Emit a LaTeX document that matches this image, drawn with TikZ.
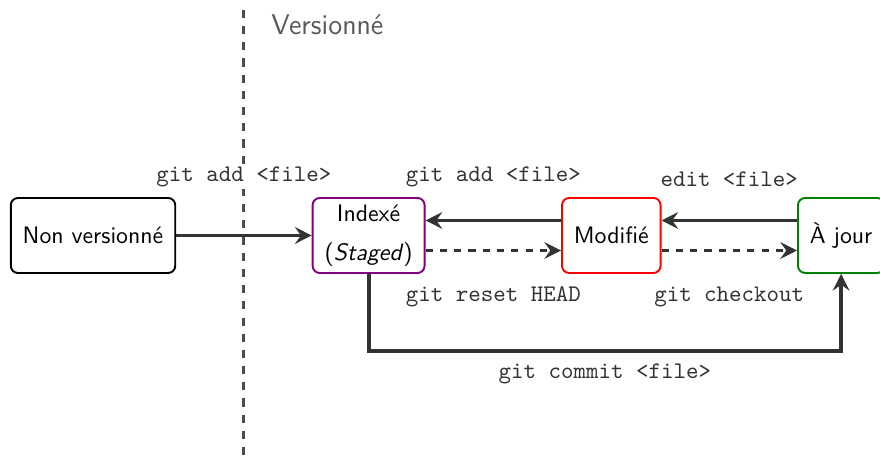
\documentclass[tikz,border=0pt]{standalone}
\usepackage{tikz}
\usetikzlibrary{arrows.meta,positioning,calc}
\definecolor{stagedpurple}{RGB}{128,0,128}

\begin{document}
\begin{tikzpicture}
\tikzstyle{state}=[rectangle, rounded corners=3pt, thick, draw=black, font=\sffamily, minimum height=31.5pt, inner xsep=5pt, inner ysep=2.5pt, align=center]
\tikzstyle{connect}=[-{Stealth[length=7pt, width=7pt, inset=2.5pt]}, line width=1.6pt, draw=black!80]
\tikzstyle{cmd}=[font=\ttfamily, text=black!80]
\tikzstyle{divider}=[line width=1.3pt, draw=black!70, dash pattern=on 3.4pt off 3.4pt]

  \useasboundingbox (-1.373,-3.343) rectangle (11.616,3.476);

  \node[state] (untracked) {Non versionné};
  \node[state, draw=stagedpurple] (staged) [right=2cm of untracked] {Indexé\\[4.5pt](\textit{Staged})};
  \node[state, draw=red] (modified) [right=2cm of staged] {Modifié};
  \node[state, draw=green!50!black] (unmodified) [right=2cm of modified] {À jour};

  % limite versionne / non versionne
  \coordinate (border) at ($(untracked.east)!0.5!(staged.west)$);
  \draw[divider] (border |- 0,3.33) -- (border |- 0,-3.4);
  \node[font=\sffamily\large, text=black!65, anchor=west] (versioned) at ($(border |- 0,3.107)+(0.28,0)$) {Versionné};

  \path (untracked) edge [connect] (staged);
  \path ([yshift=6.3pt]modified.west) edge [connect] ([yshift=6.3pt]staged.east);
  \path ([yshift=-6.3pt]staged.east) edge [connect, dashed] ([yshift=-6.3pt]modified.west);
  \path ([yshift=6.3pt]unmodified.west) edge [connect] ([yshift=6.3pt]modified.east);
  \path ([yshift=-6.3pt]modified.east) edge [connect, dashed] ([yshift=-6.3pt]unmodified.west);
  \draw[connect] (staged.south) -- ++(0,-1.14) -| node[cmd, pos=0.25, below=1pt] (commitlabel) {git commit <file>} (unmodified.south);

  \node[cmd, anchor=south, yshift=3pt, fill=white, inner sep=1pt] (addlabel) at ($(untracked.north east)!0.5!(staged.north west)$) {git add <file>};
  \node[cmd, anchor=south, yshift=3pt, inner sep=1pt] (stagelabel) at ($(staged.north east)!0.5!(modified.north west)$) {git add <file>};
  \node[cmd, anchor=south, yshift=3pt, inner sep=1pt] (editlabel) at ($(modified.north east)!0.5!(unmodified.north west)$) {edit <file>};
  \node[cmd, anchor=north, yshift=-2pt] (resetlabel) at ($(staged.south east)!0.5!(modified.south west)$) {git reset HEAD};
  \node[cmd, anchor=north, yshift=-2pt] (checkoutlabel) at ($(modified.south east)!0.5!(unmodified.south west)$) {git checkout};

\end{tikzpicture}
\end{document}
